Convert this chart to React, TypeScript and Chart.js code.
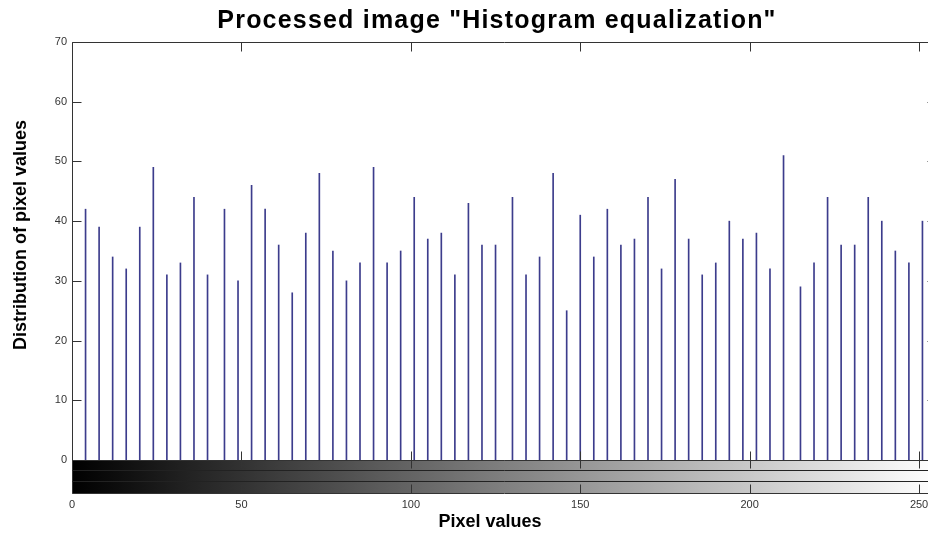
import React, { useEffect, useRef } from "react";
import { Chart, registerables } from "chart.js";

Chart.register(...registerables);

// Gray levels of the stems (x) and their counts (y)
const pixelLevels = [4, 8, 12, 16, 20, 24, 28, 32, 36, 40, 45, 49, 53, 57, 61, 65, 69, 73, 77, 81, 85, 89, 93, 97, 101, 105, 109, 113, 117, 121, 125, 130, 134, 138, 142, 146, 150, 154, 158, 162, 166, 170, 174, 178, 182, 186, 190, 194, 198, 202, 206, 210, 215, 219, 223, 227, 231, 235, 239, 243, 247, 251];
const pixelCounts = [42, 39, 34, 32, 39, 49, 31, 33, 44, 31, 42, 30, 46, 42, 36, 28, 38, 48, 35, 30, 33, 49, 33, 35, 44, 37, 38, 31, 43, 36, 36, 44, 31, 34, 48, 25, 41, 34, 42, 36, 37, 44, 32, 47, 37, 31, 33, 40, 37, 38, 32, 51, 29, 33, 44, 36, 36, 44, 40, 35, 33, 40];

const xTickValues = [0, 50, 100, 150, 200, 250];
const yTickValues = [0, 10, 20, 30, 40, 50, 60, 70];
const xLimits = [0, 255];
const yLimits = [0, 70];

const titleText = 'Processed image "Histogram equalization"';
const xTitleText = "Pixel values";
const yTitleText = "Distribution of pixel values";

const FONT = "'Liberation Sans', Arial, Helvetica, sans-serif";
const STEM = "#3c3c8c";
const AXIS = "#333333";
const CB_HEIGHT = 33;
const CANVAS_W = 960;
const CANVAS_H = 535;

const framePlugin = {
  id: "matlabFrame",
  beforeDatasetsDraw(chart: any) {
    const { ctx, chartArea: a, scales } = chart;
    const x = scales.x;
    ctx.save();
    const g = ctx.createLinearGradient(x.getPixelForValue(xLimits[0]), 0, x.getPixelForValue(xLimits[1]), 0);
    g.addColorStop(0, "#000000");
    g.addColorStop(1, "#ffffff");
    ctx.fillStyle = g;
    ctx.fillRect(a.left, a.bottom, a.right - a.left, CB_HEIGHT);
    ctx.restore();
  },
  afterDraw(chart: any) {
    const { ctx, chartArea: a, scales } = chart;
    const x = scales.x;
    const y = scales.y;
    const cbTop = a.bottom;
    const cbBot = a.bottom + CB_HEIGHT;
    ctx.save();
    ctx.strokeStyle = AXIS;
    ctx.lineWidth = 1;
    const line = (x1: number, y1: number, x2: number, y2: number) => {
      ctx.beginPath();
      ctx.moveTo(x1, y1);
      ctx.lineTo(x2, y2);
      ctx.stroke();
    };
    const L = Math.round(a.left) + 0.5;
    const R = Math.round(a.right) + 0.5;
    const T = Math.round(a.top) + 0.5;
    const B = Math.round(cbTop) + 0.5;
    const CB = Math.round(cbBot) + 0.5;
    // main axes box
    line(L, T, R, T);
    line(L, T, L, CB);
    line(R, T, R, CB);
    line(L, B, R, B);
    // colorbar box and inner lines
    line(L, CB, R, CB);
    ctx.strokeStyle = "#222222";
    line(L, B + 10, R, B + 10);
    line(L, B + 21, R, B + 21);
    ctx.strokeStyle = AXIS;
    // x ticks
    x.ticks.forEach((t: any) => {
      const px = Math.round(x.getPixelForValue(t.value)) + 0.5;
      line(px, B, px, B - 9);
      line(px, T, px, T + 9);
      line(px, B, px, B + 8);
      line(px, CB, px, CB - 9);
    });
    // y ticks
    y.ticks.forEach((t: any) => {
      const py = Math.round(y.getPixelForValue(t.value)) + 0.5;
      line(L, py, L + 9, py);
      line(R, py, R - 9, py);
    });
    // titles
    ctx.fillStyle = "#000000";
    ctx.textAlign = "center";
    ctx.font = `bold 25px ${FONT}`;
    ctx.textBaseline = "alphabetic";
    (ctx as any).letterSpacing = "1.2px";
    ctx.fillText(titleText, 497, 28);
    (ctx as any).letterSpacing = "0px";
    ctx.font = `bold 18px ${FONT}`;
    ctx.textBaseline = "middle";
    ctx.fillText(xTitleText, 490, 522);
    ctx.translate(21.5, 235);
    ctx.rotate(-Math.PI / 2);
    ctx.fillText(yTitleText, 0, 0);
    ctx.restore();
  },
};

export default function App() {
  const ref = useRef<HTMLCanvasElement | null>(null);

  useEffect(() => {
    if (!ref.current) return;
    Chart.defaults.font.family = FONT;
    const chart = new Chart(ref.current, {
      type: "bar",
      data: {
        datasets: [
          {
            data: pixelLevels.map((v, i) => ({ x: v, y: pixelCounts[i] })),
            backgroundColor: STEM,
            borderWidth: 0,
            barThickness: 1,
          } as any,
        ],
      },
      options: {
        responsive: false,
        animation: false,
        devicePixelRatio: 1,
        layout: { padding: { top: 42, right: 24, left: 0, bottom: 0 } },
        plugins: {
          legend: { display: false },
          tooltip: { enabled: false },
          title: { display: false },
        },
        scales: {
          x: {
            type: "linear",
            min: xLimits[0],
            max: xLimits[1],
            offset: false,
            grid: { display: false, drawTicks: false, offset: false },
            border: { display: false },
            ticks: {
              includeBounds: false,
              padding: 38,
              color: "#333333",
              font: { size: 11, family: FONT },
              maxRotation: 0,
            },
            afterBuildTicks: (s: any) => {
              s.ticks = xTickValues.map((v) => ({ value: v }));
            },
            afterFit: (s: any) => {
              s.height = 75;
              s.paddingLeft = 0;
              s.paddingRight = 0;
            },
          },
          y: {
            type: "linear",
            min: yLimits[0],
            max: yLimits[1],
            grid: { display: false, drawTicks: false },
            border: { display: false },
            ticks: {
              padding: 5,
              color: "#333333",
              font: { size: 11, family: FONT },
            },
            afterBuildTicks: (s: any) => {
              s.ticks = yTickValues.map((v) => ({ value: v }));
            },
            afterFit: (s: any) => {
              s.width = 72;
            },
          },
        } as any,
      },
      plugins: [framePlugin],
    });
    return () => chart.destroy();
  }, []);

  return (
    <div
      style={{
        position: "fixed",
        left: 0,
        top: 0,
        width: 928,
        height: CANVAS_H,
        overflow: "hidden",
        background: "#ffffff",
      }}
    >
      <div style={{ width: CANVAS_W, height: CANVAS_H }}>
        <canvas
          ref={ref}
          width={CANVAS_W}
          height={CANVAS_H}
          style={{ display: "block", width: CANVAS_W, height: CANVAS_H }}
        />
      </div>
    </div>
  );
}
